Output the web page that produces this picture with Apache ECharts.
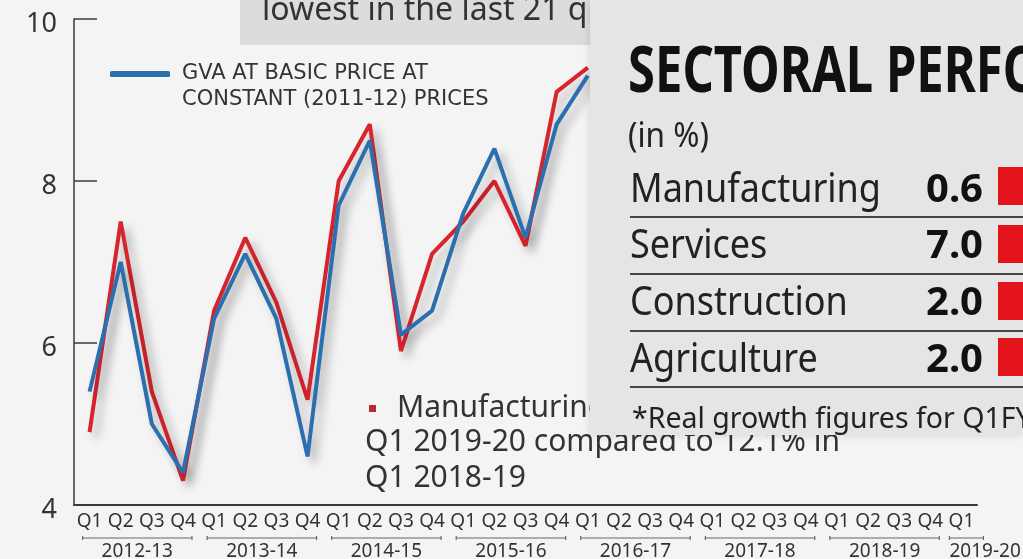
<!DOCTYPE html>
<html><head><meta charset="utf-8">
<script src="https://cdn.jsdelivr.net/npm/echarts@6/dist/echarts.min.js"></script>
<style>html,body{margin:0;padding:0;background:#f4f4f4}#c{width:1023px;height:559px}</style>
</head><body><div id="c"></div>
<script>
// ---- data ----
const fiscalYears = ['2012-13','2013-14','2014-15','2015-16','2016-17','2017-18','2018-19','2019-20'];
const quarterCounts = [4,4,4,4,4,4,4,1];
const quarterNames = ['Q1','Q2','Q3','Q4'];
const yMin = 4, yMax = 10, yStep = 2;
const gvaName = 'GVA AT BASIC PRICE AT CONSTANT (2011-12) PRICES';
// visible part only (remainder hidden behind the sectoral panel)
const gvaGrowth = [5.4, 7.0, 5.0, 4.4, 6.3, 7.1, 6.3, 4.6, 7.7, 8.5, 6.1, 6.4, 7.6, 8.4, 7.3, 8.7, 9.3,
  null, null, null, null, null, null, null, null, null, null, null, null];
const gdpGrowth = [4.9, 7.5, 5.4, 4.3, 6.4, 7.3, 6.5, 5.3, 8.0, 8.7, 5.9, 7.1, 7.5, 8.0, 7.2, 9.1, 9.4,
  null, null, null, null, null, null, null, null, null, null, null, null];
const sectors = ['Manufacturing','Services','Construction','Agriculture'];
const sectorGrowth = ['0.6','7.0','2.0','2.0'];
const headlineText = 'lowest in the last 21 quarters';
const panelTitle = 'SECTORAL PERFORMANCE';
const panelUnit = '(in %)';
const panelNote = '*Real growth figures for Q1FY20';
const noteLines = ['Manufacturing grew 0.6% in', 'Q1 2019-20 compared to 12.1% in', 'Q1 2018-19'];

// ---- build ----
const categories = [];
fiscalYears.forEach((fy, i) => { for (let q = 0; q < quarterCounts[i]; q++) categories.push(quarterNames[q] + ' ' + fy); });

const FONT = 'Noto Sans';
const chart = echarts.init(document.getElementById('c'));
const lineShadow = { shadowColor: 'rgba(0,0,0,0.28)', shadowBlur: 10, shadowOffsetX: 6, shadowOffsetY: 6 };

chart.setOption({
  backgroundColor: '#f4f4f4',
  animation: false,
  grid: { left: 74, right: 46, top: 19, bottom: 54 },
  legend: {
    data: [gvaName], left: 110, top: 35, padding: 0, selectedMode: false,
    icon: 'roundRect', itemWidth: 60, itemHeight: 6,
    formatter: n => '\n' + n.replace(' CONSTANT', '\nCONSTANT'),
    textStyle: { fontFamily: 'DejaVu Sans', fontSize: 21, color: '#333', lineHeight: 26, padding: [0, 0, 0, 7] }
  },
  xAxis: {
    type: 'category', data: categories, boundaryGap: true,
    axisLine: { lineStyle: { color: '#3a3a3a', width: 2 } },
    axisTick: { show: false },
    axisLabel: { interval: 0, formatter: v => v.split(' ')[0], fontFamily: FONT, fontSize: 19, color: '#333', margin: 7 }
  },
  yAxis: {
    type: 'value', min: yMin, max: yMax, interval: yStep,
    axisLine: { show: true, lineStyle: { color: '#3a3a3a', width: 1.5 } },
    axisTick: { show: true, inside: true, length: 23, lineStyle: { color: '#3a3a3a', width: 1.5 } },
    splitLine: { show: false },
    axisLabel: { margin: 17, formatter: v => '{v|' + v + '}',
      rich: { v: { fontFamily: FONT, fontSize: 27, color: '#333', padding: [10, 0, 0, 0] } } }
  },
  series: [
    { name: 'GDP', type: 'line', data: gdpGrowth, symbol: 'none', connectNulls: false,
      lineStyle: Object.assign({ color: '#d6252d', width: 4 }, lineShadow), itemStyle: { color: '#d6252d' } },
    { name: gvaName, type: 'line', data: gvaGrowth, symbol: 'none', connectNulls: false,
      lineStyle: Object.assign({ color: '#2c6fae', width: 4 }, lineShadow), itemStyle: { color: '#2c6fae' } }
  ]
});

// ---- annotations / panel ----
const els = [];
const Z = 100;
// headline box
els.push({ type: 'rect', z: Z, shape: { x: 240, y: 0, width: 360, height: 45 }, style: { fill: '#dcdcdc' } });
els.push({ type: 'text', z: Z, x: 262, y: 11, style: { text: headlineText, fontFamily: FONT, fontSize: 32, fill: '#333', verticalAlign: 'middle' } });
// note
els.push({ type: 'rect', z: Z, shape: { x: 369, y: 405, width: 7, height: 7 }, style: { fill: '#c0282f' } });
const noteY = [408, 442, 478], noteX = [397, 365, 365];
noteLines.forEach((t, i) => els.push({ type: 'text', z: Z, x: noteX[i], y: noteY[i], style: { text: t, fontFamily: FONT, fontSize: 30, fill: '#333', verticalAlign: 'middle' } }));

// year brackets
let idx = 0;
fiscalYears.forEach((fy, i) => {
  const n = quarterCounts[i];
  const a = chart.convertToPixel({ xAxisIndex: 0 }, idx);
  const b = chart.convertToPixel({ xAxisIndex: 0 }, idx + n - 1);
  idx += n;
  const x1 = n > 1 ? a - 7 : a - 12, x2 = n > 1 ? b + 9 : b + 22, y = 538;
  const st = { stroke: '#666', lineWidth: 1.2 };
  els.push({ type: 'line', z: Z, shape: { x1, y1: y, x2, y2: y }, style: st });
  els.push({ type: 'line', z: Z, shape: { x1, y1: y - 2, x2: x1, y2: y + 2 }, style: st });
  els.push({ type: 'line', z: Z, shape: { x1: x2, y1: y - 2, x2, y2: y + 2 }, style: st });
  els.push({ type: 'text', z: Z, x: n > 1 ? (x1 + x2) / 2 : x1, y: 552,
    style: { text: fy, fontFamily: FONT, fontSize: 19, fill: '#333', align: n > 1 ? 'center' : 'left', verticalAlign: 'middle' } });
});

// sectoral panel
const PZ = 120;
els.push({ type: 'rect', z: PZ, shape: { x: 590, y: 0, width: 433, height: 435 }, style: { fill: '#e5e5e5', shadowColor: 'rgba(0,0,0,0.15)', shadowBlur: 8 } });
els.push({ type: 'text', z: PZ + 1, x: 628, y: 74, scaleX: 0.765, style: { text: panelTitle, fontFamily: FONT, fontWeight: 'bold', fontSize: 64, fill: '#111', verticalAlign: 'middle' } });
els.push({ type: 'text', z: PZ + 1, x: 628, y: 137, scaleX: 0.9, style: { text: panelUnit, fontFamily: FONT, fontSize: 35, fill: '#222', verticalAlign: 'middle' } });
const rowY = [190.6, 246.6, 303.6, 360.6];
const boxY = [186, 244, 301, 357];
const sepY = [217, 274, 331, 387];
sectors.forEach((s, i) => {
  els.push({ type: 'text', z: PZ + 1, x: 630, y: rowY[i], scaleX: 0.9, style: { text: s, fontFamily: FONT, fontSize: 40, fill: '#222', verticalAlign: 'middle' } });
  els.push({ type: 'text', z: PZ + 1, x: 983, y: rowY[i], style: { text: sectorGrowth[i], fontFamily: FONT, fontWeight: 'bold', fontSize: 40, fill: '#111', align: 'right', verticalAlign: 'middle' } });
  els.push({ type: 'rect', z: PZ + 1, shape: { x: 998, y: boxY[i] - 19, width: 30, height: 38 }, style: { fill: '#e3141c' } });
  els.push({ type: 'line', z: PZ + 1, shape: { x1: 630, y1: sepY[i], x2: 1023, y2: sepY[i] }, style: { stroke: '#444', lineWidth: 2 } });
});
els.push({ type: 'text', z: PZ + 1, x: 632, y: 420, style: { text: panelNote, fontFamily: FONT, fontSize: 28.5, fill: '#222', verticalAlign: 'middle' } });

chart.setOption({ graphic: { elements: els.map(e => Object.assign({ silent: true }, e)) } });
</script>
</body></html>
